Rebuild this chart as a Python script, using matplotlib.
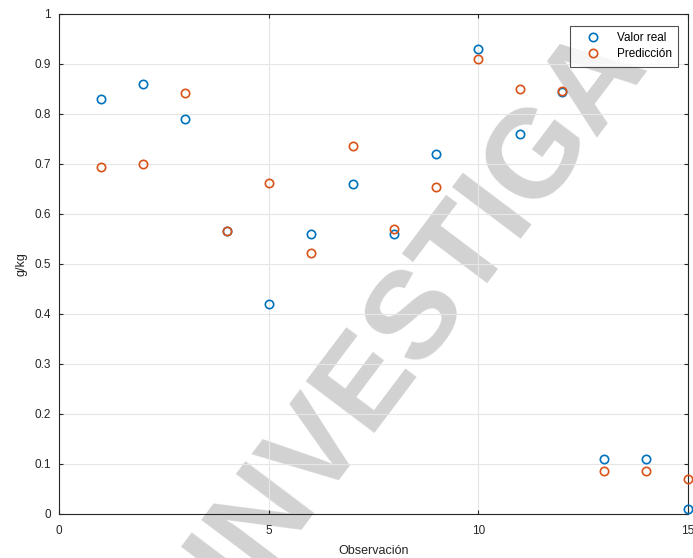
import matplotlib.pyplot as plt

plt.rcParams['font.family'] = ['Liberation Sans', 'DejaVu Sans']

observaciones = list(range(1, 16))
valor_real = [0.83, 0.86, 0.79, 0.566, 0.42, 0.56, 0.66, 0.56, 0.72, 0.93, 0.76, 0.845, 0.11, 0.11, 0.01]
prediccion = [0.694, 0.70, 0.842, 0.566, 0.662, 0.522, 0.736, 0.57, 0.655, 0.91, 0.85, 0.846, 0.086, 0.086, 0.07]

azul = (0, 0.447, 0.741)
naranja = (0.85, 0.325, 0.098)

fig = plt.figure(figsize=(6.93, 5.58), dpi=100)
ax = fig.add_axes([59/693, 1-514/558, (688-59)/693, (514-14)/558])

ax.plot(observaciones, valor_real, 'o', mfc='none', mec=azul, ms=6, mew=1.2, label='Valor real', clip_on=False, zorder=3)
ax.plot(observaciones, prediccion, 'o', mfc='none', mec=naranja, ms=6, mew=1.2, label='Predicción', clip_on=False, zorder=3)

ax.set_xlim(0, 15)
ax.set_ylim(0, 1)
ax.set_xticks([0, 5, 10, 15])
ax.set_yticks([i/10 for i in range(11)])
ax.set_yticklabels(['0', '0.1', '0.2', '0.3', '0.4', '0.5', '0.6', '0.7', '0.8', '0.9', '1'])
ax.grid(True, color='#e6e6e6', linewidth=0.8)
ax.set_axisbelow(True)
ax.tick_params(direction='in', length=3, labelsize=8.5, colors='#262626', top=True, right=True)
ax.tick_params(axis='x', pad=8)
ax.tick_params(axis='y', pad=6)
for s in ax.spines.values():
    s.set_color('#262626')
    s.set_linewidth(0.8)
ax.set_xlabel('Observación', fontsize=9, color='#262626', labelpad=6)
ax.set_ylabel('g/kg', fontsize=9, color='#262626', labelpad=5)

leg = ax.legend(loc='upper right', fontsize=8.5, frameon=True, fancybox=False, edgecolor='#262626',
                handlelength=2.9, handletextpad=0.5, borderpad=0.55, labelspacing=0.3,
                borderaxespad=0, bbox_to_anchor=((678-59)/629, (514-26)/500))
leg.get_frame().set_linewidth(0.8)
leg.set_zorder(5)

# marca de agua
ax.text(242/693, 1-598/558, 'INVESTIGA', transform=fig.transFigure, fontsize=90, color='#d2d2d2',
        fontweight='bold', rotation=53, rotation_mode='anchor', ha='left', va='baseline',
        clip_on=False, zorder=0.3)

fig.savefig('out.png', dpi=100)
